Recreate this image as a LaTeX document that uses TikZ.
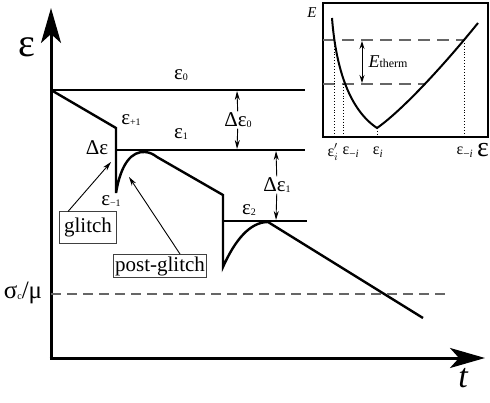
\documentclass[tikz,border=0pt]{standalone}
\usepackage{fontspec}
\setmainfont{Liberation Serif}
\usetikzlibrary{arrows.meta}
\newcommand{\fs}[1]{\fontsize{#1}{#1}\selectfont}
\newcommand{\lo}[1]{\raisebox{-1pt}{\fs{10}#1}}

\begin{document}
\begin{tikzpicture}[x=1pt,y=-1pt,
  axis/.style={line width=3pt,-{Stealth[length=35pt,width=20pt,inset=9pt]}},
  curve/.style={line width=2.4pt,line join=miter},
  level/.style={line width=2.4pt},
  gap/.style={line width=1pt,{Stealth[length=8pt,width=5pt]}-{Stealth[length=8pt,width=5pt]}},
  tip/.style={line width=0.9pt,-{Stealth[length=9pt,width=5pt]}},
  lab/.style={inner sep=1pt,font=\fs{21}},
  small/.style={inner sep=1pt,font=\fs{16}},
  tag/.style={draw=black!75,line width=0.9pt,inner sep=2pt,font=\fs{21}},
  limit/.style={black!60,line width=1.3pt,dash pattern=on 10pt off 6pt}]

\useasboundingbox (0,0) rectangle (490,403);

% ===== Axes =====
\coordinate (O) at (51,359.5);
\coordinate (ytop) at (51,8);
\coordinate (xend) at (485,358);
\draw[axis] (O) -- (ytop);
\draw[axis] (49.5,358) -- (xend);
\node[font=\fs{40}] (eps) at (27,47) {ε};
\node[font=\fs{34}\itshape] (t) at (463,378) {t};

% ===== Levels =====
\draw[level] (51,90) -- (305,90);
\draw[level] (116,150) -- (305,150);
\draw[level] (223,221) -- (307,221);

% ===== Trajectory =====
\draw[curve] (51,90) -- (116,128) -- (116,193)
  .. controls (121,163) and (132,151) .. (145,152)
  .. controls (150,152.5) and (153,154) .. (157,157) -- (223,195) -- (223,267)
  .. controls (235,240) and (250,222) .. (268,222) -- (423,318);

% ===== Labels =====
\node[lab] (e0) at (181,75) {ε\lo{0}};
\node[lab] (ep1) at (131,120) {ε\lo{+1}};
\node[lab] (e1) at (181,134) {ε\lo{1}};
\node[lab] (de) at (97,148) {Δε};
\node[lab] (em1) at (111,201) {ε\lo{−1}};
\node[lab] (e2) at (249,210) {ε\lo{2}};

% ===== Gaps =====
\coordinate (g0a) at (237,91);
\coordinate (g0b) at (237,149);
\coordinate (g1a) at (276,151);
\coordinate (g1b) at (276,220);
\node[lab,fill=white] (de0) at (238,120) {Δε\lo{0}};
\node[lab,fill=white] (de1) at (277,185) {Δε\lo{1}};
\draw[tip] (de0) -- (g0a);
\draw[tip] (de0) -- (g0b);
\draw[tip] (de1) -- (g1a);
\draw[tip] (de1) -- (g1b);

% ===== Tags =====
\node[tag,inner xsep=5pt,inner ysep=6pt] (glitch) at (88,227.5) {glitch};
\node[tag] (post) at (160,266) {post-glitch};
\coordinate (drop) at (111,162);
\coordinate (rise) at (129,177);
\draw[tip] ([xshift=-20pt]glitch.north) -- (drop);
\draw[tip] ([xshift=20pt]post.north) -- (rise);

% ===== Critical strain =====
\node[font=\fs{25}] (sig) at (23,293) {σ\lo{c}/μ};
\coordinate (sa) at (51,294);
\coordinate (sb) at (450,294);
\draw[limit] (sa) -- (sb);

% ===== Inset =====
\draw[line width=1.2pt] (323,3) rectangle (488,137);
\draw[limit,line width=1.1pt,dash pattern=on 12pt off 7pt] (323,40) -- (464,40);
\draw[limit,line width=1.1pt,dash pattern=on 12pt off 7pt] (323,84) -- (425,84);
\foreach \x/\y in {334/40,343/84,377/128,464/40} {
    \draw[dotted,line width=0.9pt] (\x,\y) -- (\x,137);
}
\draw[line width=2pt] (332,18) .. controls (336,70) and (350,110) .. (377,128)
  .. controls (400,112) and (440,70) .. (478,23);
\coordinate (hi) at (362,41);
\coordinate (lo) at (362,83);
\draw[gap] (hi) -- (lo);
\node[font=\fs{15}\itshape] (E) at (312,13) {E};
\node[font=\fs{18},anchor=west] (Eth) at (365,62) {\textit{E}{\fs{12}therm}};

\node[small] (epi) at (333,152) {ε$'_{i}$};
\node[small] (emi) at (351,152) {ε\textsubscript{−\textit{i}}};
\node[small] (ei) at (378,152) {ε\textsubscript{\textit{i}}};
\node[small] (emi2) at (465,152) {ε\textsubscript{−\textit{i}}};
\node[font=\fs{28}] (ebig) at (483,150) {ε};

\end{tikzpicture}
\end{document}
